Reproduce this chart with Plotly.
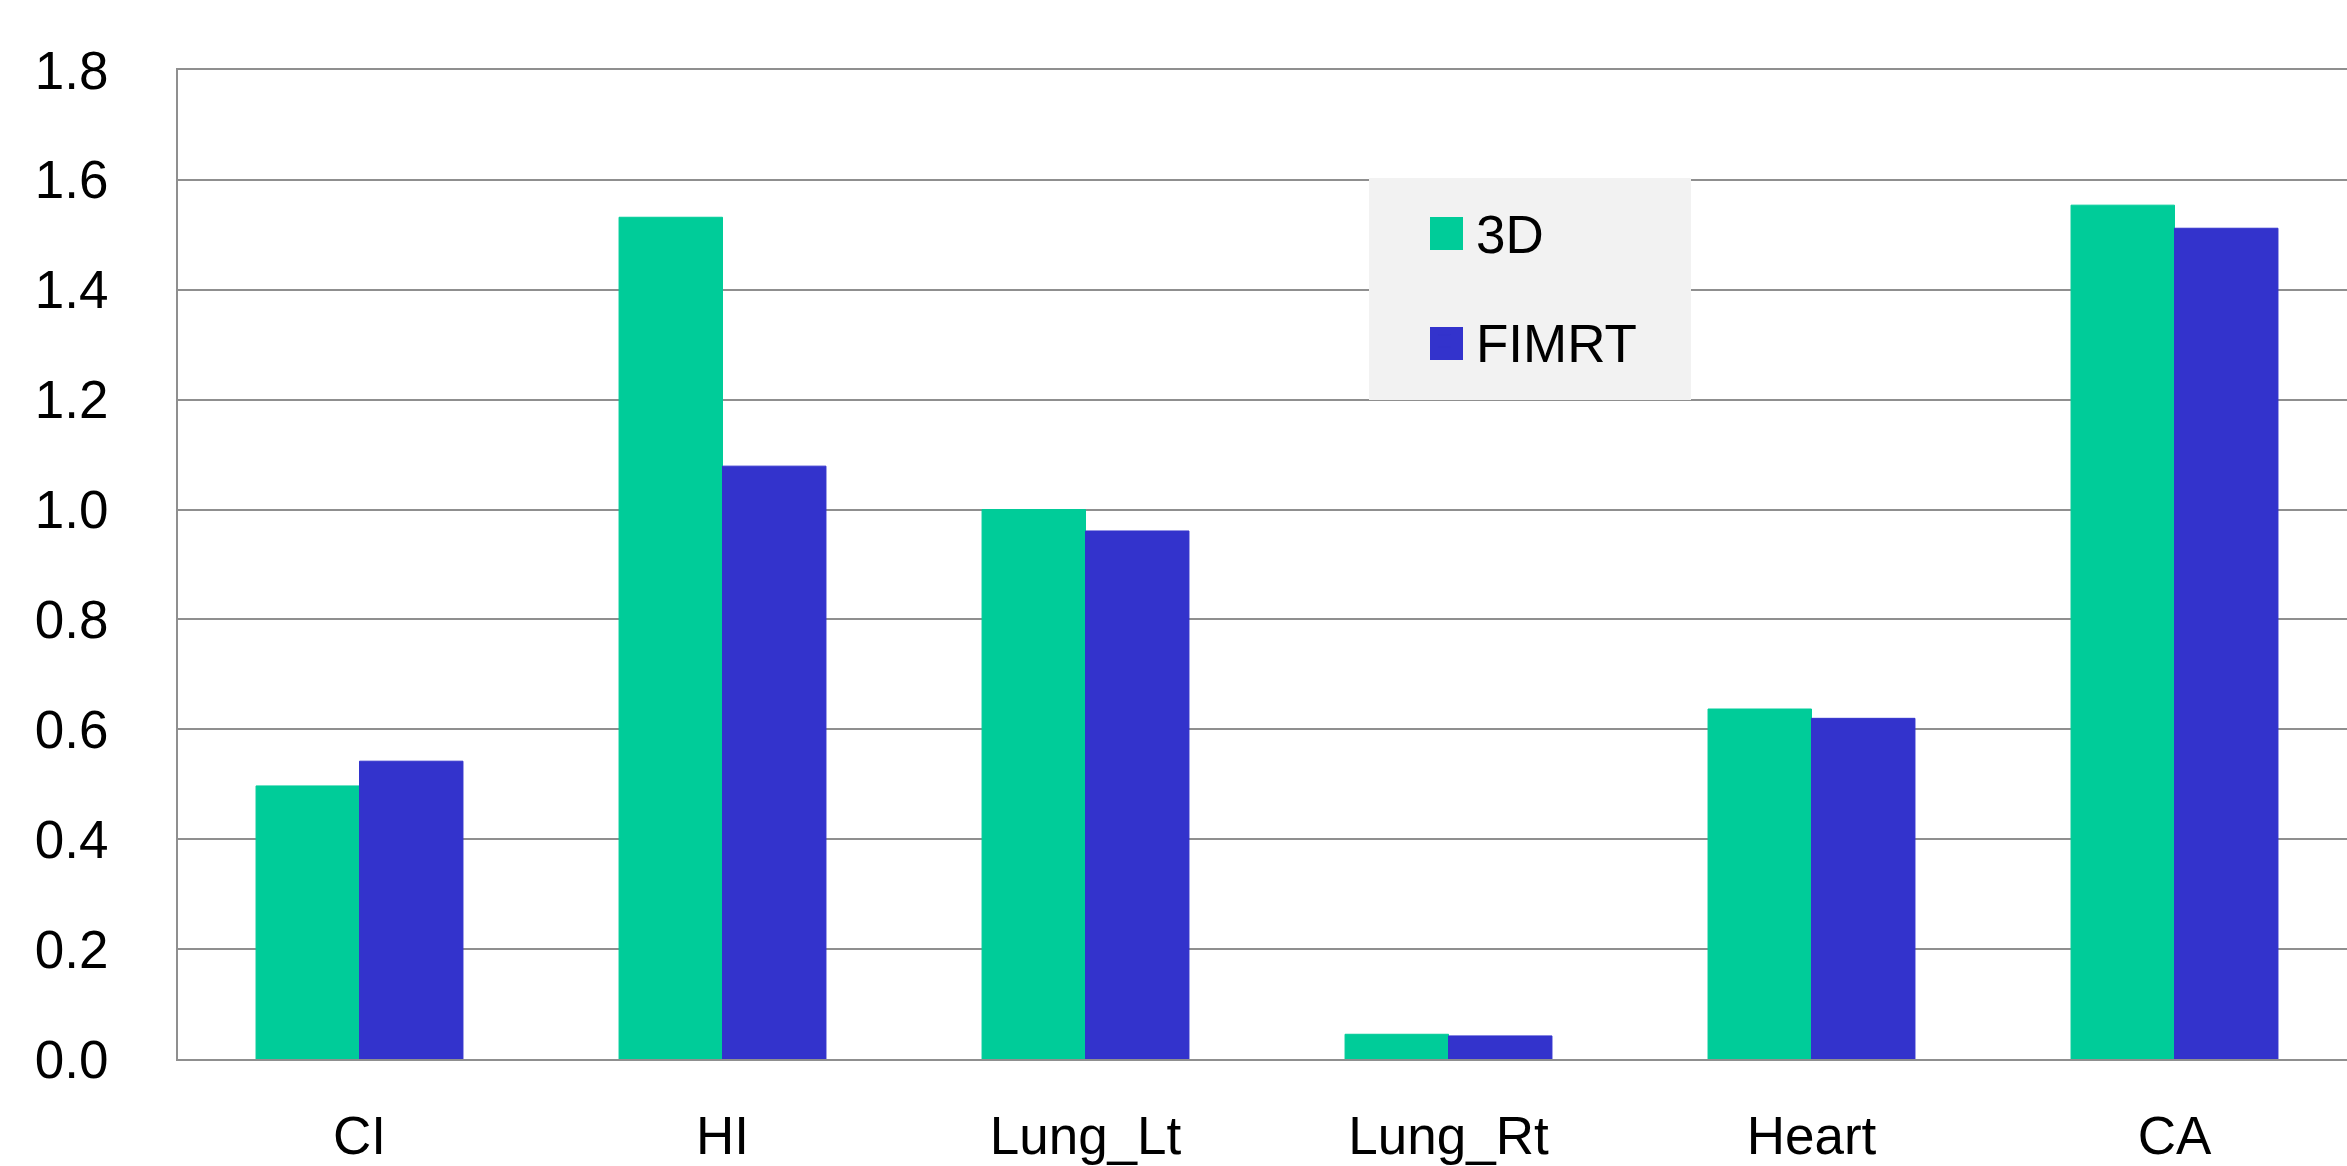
import plotly.graph_objects as go

categories = ["CI", "HI", "Lung_Lt", "Lung_Rt", "Heart", "CA"]
values_3d = [0.497, 1.532, 1.000, 0.045, 0.637, 1.554]
values_fimrt = [0.542, 1.079, 0.961, 0.042, 0.620, 1.512]
y_ticks = [0.0, 0.2, 0.4, 0.6, 0.8, 1.0, 1.2, 1.4, 1.6, 1.8]

W, H = 2347, 1166
FONT = "Liberation Sans, Arial, sans-serif"
GRID = "#8f8f8f"
LEG_BG = "#f2f2f2"
C_3D = "#00CC99"
C_FIMRT = "#3333CC"

fig = go.Figure()
fig.add_trace(go.Bar(name="3D", x=categories, y=values_3d,
                     marker=dict(color=C_3D, line=dict(color=C_3D, width=1)),
                     legendgroup="a"))
fig.add_trace(go.Bar(name="FIMRT", x=categories, y=values_fimrt,
                     marker=dict(color=C_FIMRT, line=dict(color=C_FIMRT, width=1)),
                     legendgroup="b"))

left, top, bottom = 178, 70, 1166 - 1059
pw, ph = W - left, H - top - bottom


def px_x(x):
    return (x - left) / pw


def px_y(y):
    return 1 - (y - top) / ph


# legend panel background
fig.add_shape(type="rect", xref="paper", yref="paper", layer="above",
              x0=px_x(1369), x1=px_x(1691), y0=px_y(400), y1=px_y(178),
              fillcolor=LEG_BG, line=dict(width=0))
# larger legend swatches (native legend icons sit on top of them)
for color, (y0, y1) in [(C_3D, (217, 250)), (C_FIMRT, (327, 360))]:
    fig.add_shape(type="rect", xref="paper", yref="paper", layer="above",
                  x0=px_x(1430), x1=px_x(1463), y0=px_y(y1), y1=px_y(y0),
                  fillcolor=color, line=dict(width=0))

fig.update_layout(
    width=W, height=H,
    margin=dict(l=left, r=0, t=top, b=bottom, pad=0, autoexpand=False),
    paper_bgcolor="white", plot_bgcolor="white",
    barmode="group", bargap=0.43, bargroupgap=0,
    font=dict(family=FONT, size=53, color="black"),
    showlegend=True,
    legend=dict(
        x=px_x(1413), xanchor="left",
        y=px_y(191), yanchor="top",
        bgcolor="rgba(0,0,0,0)", borderwidth=0,
        font=dict(family=FONT, size=53, color="black"),
        tracegroupgap=37, traceorder="grouped",
        itemwidth=53,
    ),
    xaxis=dict(
        type="category", range=[-0.5, 5.5 - 9 / 363], automargin=False,
        showgrid=False, showline=True, linecolor=GRID, linewidth=2, mirror=True,
        ticks="", ticklabelstandoff=29,
        tickfont=dict(family=FONT, size=53, color="black"),
        fixedrange=True,
    ),
    yaxis=dict(
        range=[0, 1.8], tickvals=y_ticks, ticktext=[f"{v:.1f}" for v in y_ticks],
        automargin=False,
        showgrid=True, gridcolor=GRID, gridwidth=2,
        showline=True, linecolor=GRID, linewidth=2,
        zeroline=False, ticks="", ticklabelstandoff=57,
        tickfont=dict(family=FONT, size=53, color="black"),
        fixedrange=True,
    ),
)

fig.write_html(
    "out.html",
    config={"displayModeBar": False},
    post_script="document.body.style.margin='0px';document.body.style.overflow='hidden';",
)
